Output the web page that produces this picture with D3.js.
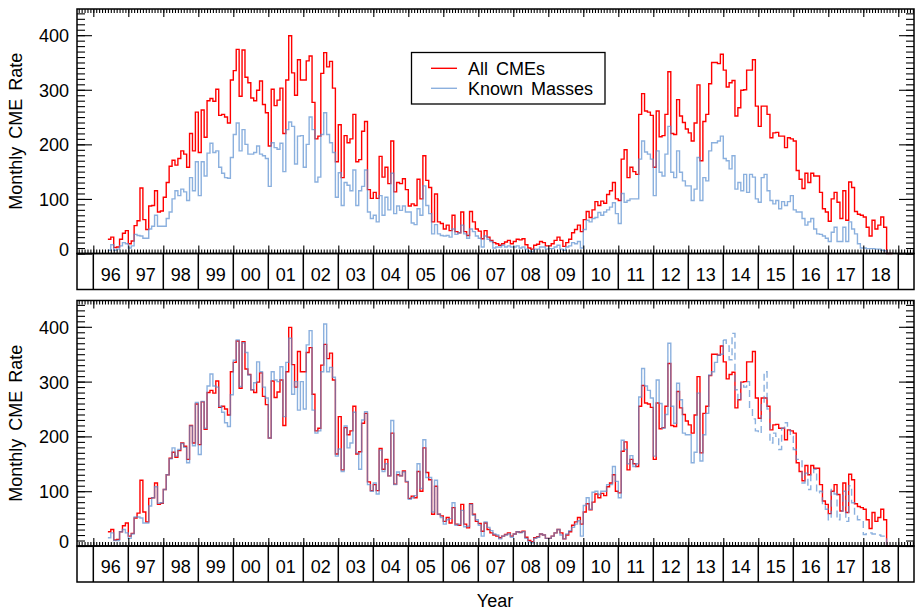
<!DOCTYPE html>
<html><head><meta charset="utf-8">
<script src="https://cdn.jsdelivr.net/npm/d3@7"></script>
<style>
body{margin:0;background:#fff}
svg{display:block}
text{font-family:"Liberation Sans",Arial,Helvetica,sans-serif;fill:#000}
</style>
</head><body>
<svg id="c" width="915" height="612"></svg>
<script>
// ---------------- DATA (monthly, first value = June 1996) ----------------
const startYear = 1996, startMonth = 6;
const allCMEs = [
  26,30,11,12,26,37,42,
  18,23,51,60,120,62,44,87,88,115,76,78,
  103,130,160,171,162,174,188,182,158,220,188,259,
  185,263,213,280,284,279,301,253,255,250,239,318,
  335,374,288,373,323,313,285,280,299,316,273,258,
  197,301,271,281,303,220,318,399,331,290,355,318,
  318,353,362,277,210,215,330,368,342,352,303,168,
  236,139,216,203,210,255,168,172,224,242,117,101,
  112,101,178,140,158,128,206,113,130,128,137,117,
  87,91,88,136,100,179,134,121,58,109,58,55,
  45,52,42,70,40,38,76,40,33,77,58,45,
  41,27,42,30,24,20,18,15,18,21,24,18,
  22,26,25,27,16,10,8,15,17,22,20,14,
  14,18,24,30,24,13,20,26,38,44,52,40,
  62,77,66,80,95,88,96,92,108,115,130,100,
  97,173,190,139,158,150,145,255,293,261,259,253,
  158,261,214,216,255,333,220,218,282,252,240,228,
  221,206,239,309,170,242,255,311,350,350,348,365,
  336,305,313,317,252,267,299,300,336,336,355,270,
  233,270,270,255,212,221,222,215,215,194,212,210,
  206,152,136,119,147,130,147,142,142,112,82,76,
  59,100,112,94,64,115,61,131,121,77,72,70,
  67,48,32,61,45,52,67,48,0,0
];
const knownMasses = [
  6,16,6,8,14,20,18,
  10,14,35,33,32,28,28,45,50,70,50,50,
  50,64,76,100,115,106,118,113,97,139,115,168,
  106,168,142,184,202,185,188,158,147,139,138,176,
  218,239,188,227,200,182,182,185,197,182,179,174,
  123,203,194,191,202,150,227,241,233,164,215,216,
  158,200,250,227,131,140,218,258,218,203,185,103,
  148,88,130,125,115,153,88,115,123,153,76,64,
  70,58,106,70,103,80,147,73,87,79,87,76,
  76,56,53,82,70,124,88,73,36,53,36,33,
  32,33,30,45,35,38,52,36,28,45,40,32,
  28,12,32,26,22,10,12,12,15,12,14,12,
  12,14,10,12,8,4,3,8,8,12,12,8,
  9,9,12,15,8,6,12,14,20,18,22,10,
  44,61,58,64,66,75,70,76,80,85,93,73,
  55,110,94,97,100,100,100,173,206,186,182,173,
  106,188,149,142,182,233,149,139,188,149,133,124,
  124,97,118,176,97,139,133,188,203,203,206,215,
  174,170,155,179,118,130,115,145,112,145,140,100,
  94,139,145,115,97,91,97,82,95,88,95,106,
  80,76,76,64,52,58,64,45,36,35,32,28,
  22,39,48,22,22,48,22,58,45,36,18,10,
  10,9,9,9,8,8,6,5,0,0
];
const knownMassesScaled = [
  15,24,10,10,26,30,24,
  14,22,53,53,51,42,42,73,88,108,78,79,
  103,130,159,179,164,176,187,180,152,219,183,262,
  167,264,215,292,314,292,290,255,244,225,218,276,
  339,376,291,371,353,312,285,298,336,318,290,270,
  197,318,303,300,327,236,335,379,277,300,248,300,
  250,367,393,248,206,210,318,405,318,326,308,164,
  177,136,219,179,188,244,170,140,230,245,112,100,
  115,95,175,136,150,128,229,112,135,128,135,118,
  85,88,92,150,105,194,125,125,62,120,58,52,
  40,48,50,79,38,40,65,35,36,76,56,48,
  38,18,44,34,28,22,20,13,18,20,22,16,
  22,26,24,26,14,8,6,14,16,22,20,14,
  14,18,24,30,20,13,22,28,34,40,46,18,
  74,88,67,98,100,94,100,100,112,112,145,118,
  88,193,176,150,165,145,150,272,324,292,284,270,
  164,303,260,215,240,370,255,224,297,267,206,203,
  203,152,171,279,155,203,242,312,318,335,348,350,
  376,365,340,388,285,265,298,290,300,250,232,210,
  206,260,318,250,188,206,200,176,215,225,212,200,
  176,158,155,115,133,103,130,140,97,100,73,67,
  48,103,95,48,64,100,45,110,79,55,48,48,
  21,24,24,22,22,20,18,18,0,0
];
const dashedFromYear = 2014;
const yTickValues = [0,100,200,300,400];
const yearLabels = ["96","97","98","99","00","01","02","03","04","05","06","07","08","09","10","11","12","13","14","15","16","17","18"];
const legendLabels = ["All CMEs","Known Masses"];
const yLabel = "Monthly CME Rate", xLabel = "Year";

// ---------------- STYLE / LAYOUT ----------------
const RED = "#ff0000", BLUE = "#5a8fd0";
const svg = d3.select("#c");
const x = d3.scaleLinear().domain([1995.534, 2019.449]).range([77, 914]);
const panels = [{top: 9, bottom: 253.5}, {top: 300.5, bottom: 546}];

function toPoints(arr) {
  const pts = arr.map((v, i) => ({t: startYear + (startMonth - 1 + i) / 12, v}));
  const last = pts[pts.length - 1];
  pts.push({t: last.t + 1 / 12, v: last.v});
  return pts;
}
const redPts = toPoints(allCMEs), bluePts = toPoints(knownMasses), scaledPts = toPoints(knownMassesScaled);

const monthTicks = d3.range(0, 24 * 12 + 1).map(i => 1995 + 7 / 12 + i / 12).filter(t => t < 2019.44);
const yearTicks = d3.range(1996, 2020);

panels.forEach((p, pi) => {
  const y = d3.scaleLinear().domain([0, 448]).range([p.bottom, p.top]);
  const g = svg.append("g");
  const line = d3.line().x(d => x(d.t)).y(d => y(d.v)).curve(d3.curveStepAfter);

  // data
  g.append("path").datum(redPts).attr("d", line).attr("fill", "none")
    .attr("stroke", RED).attr("stroke-width", 1.4);
  if (pi === 0) {
    g.append("path").datum(bluePts).attr("d", line).attr("fill", "none")
      .attr("stroke", BLUE).attr("stroke-width", 1.4).attr("stroke-opacity", 0.7);
  } else {
    const solid = scaledPts.filter(d => d.t <= dashedFromYear + 0.001);
    const dashed = scaledPts.filter(d => d.t >= dashedFromYear - 0.001);
    g.append("path").datum(solid).attr("d", line).attr("fill", "none")
      .attr("stroke", BLUE).attr("stroke-width", 1.4).attr("stroke-opacity", 0.7);
    g.append("path").datum(dashed).attr("d", line).attr("fill", "none")
      .attr("stroke", BLUE).attr("stroke-width", 1.4).attr("stroke-opacity", 0.7)
      .attr("stroke-dasharray", "7,4");
  }

  // y ticks (left + right)
  const yMinor = d3.range(0, 441, 10);
  const addAxis = (axis, tx, ty) => {
    const a = g.append("g").attr("transform", `translate(${tx},${ty})`).call(axis);
    a.select(".domain").remove();
    a.selectAll("line").attr("stroke", "#000").attr("stroke-width", 1.1);
    return a;
  };
  addAxis(d3.axisRight(y).tickValues(yMinor).tickSize(8).tickFormat(""), 77, 0);
  addAxis(d3.axisRight(y).tickValues(yTickValues).tickSize(15).tickFormat(""), 77, 0);
  addAxis(d3.axisLeft(y).tickValues(yMinor).tickSize(8).tickFormat(""), 914, 0);
  addAxis(d3.axisLeft(y).tickValues(yTickValues).tickSize(15).tickFormat(""), 914, 0);
  // x ticks on top and bottom of frame
  addAxis(d3.axisBottom(x).tickValues(monthTicks).tickSize(4).tickFormat(""), 0, p.top);
  addAxis(d3.axisBottom(x).tickValues(yearTicks).tickSize(8).tickFormat(""), 0, p.top);
  addAxis(d3.axisTop(x).tickValues(monthTicks).tickSize(4).tickFormat(""), 0, p.bottom);
  addAxis(d3.axisTop(x).tickValues(yearTicks).tickSize(8).tickFormat(""), 0, p.bottom);

  // y labels
  const lab = g.append("g").attr("transform", `translate(77,0)`)
    .call(d3.axisLeft(y).tickValues(yTickValues).tickSize(0).tickPadding(8));
  lab.select(".domain").remove();
  lab.selectAll("text").attr("font-size", 18).attr("font-family", '"Liberation Sans",Arial,sans-serif')
    .attr("fill", "#000").attr("dy", d => d === 0 ? "0.1em" : "0.36em");

  // frame
  g.append("rect").attr("x", 77).attr("y", p.top).attr("width", 914 - 77).attr("height", p.bottom - p.top)
    .attr("fill", "none").attr("stroke", "#000").attr("stroke-width", 1.5);

  // year label boxes
  const rowTop = p.bottom, rowBot = p.bottom + 36;
  g.append("rect").attr("x", 77).attr("y", rowTop).attr("width", 914 - 77).attr("height", rowBot - rowTop)
    .attr("fill", "none").attr("stroke", "#000").attr("stroke-width", 1.5);
  g.selectAll(".sep").data(yearTicks).enter().append("line")
    .attr("x1", d => x(d)).attr("x2", d => x(d)).attr("y1", rowTop).attr("y2", rowBot)
    .attr("stroke", "#000").attr("stroke-width", 1.5);
  g.selectAll(".yl").data(yearLabels).enter().append("text")
    .attr("x", (d, i) => (x(1996 + i) + x(1997 + i)) / 2).attr("y", rowTop + 27)
    .attr("text-anchor", "middle").attr("font-size", 18).text(d => d);

  // y title
  g.append("text").attr("transform", `translate(22,${(p.top + p.bottom) / 2}) rotate(-90)`)
    .attr("text-anchor", "middle").attr("font-size", 18).attr("word-spacing", 3).text(yLabel);
});

// legend (top panel)
const lg = svg.append("g");
lg.append("rect").attr("x", 411.5).attr("y", 52.5).attr("width", 193.5).attr("height", 51.5)
  .attr("fill", "#fff").attr("stroke", "#000").attr("stroke-width", 1.3);
const legendColors = [RED, BLUE];
legendLabels.forEach((l, i) => {
  const yy = 68.3 + i * 20;
  lg.append("line").attr("x1", 431).attr("x2", 457).attr("y1", yy).attr("y2", yy)
    .attr("stroke", legendColors[i]).attr("stroke-width", 1.4).attr("stroke-opacity", i ? 0.7 : 1);
  lg.append("text").attr("x", 468).attr("y", yy + 6.5).attr("font-size", 18).attr("word-spacing", 3).text(l);
});

// x title
svg.append("text").attr("x", 495).attr("y", 607).attr("text-anchor", "middle").attr("font-size", 18).text(xLabel);
</script>
</body></html>
